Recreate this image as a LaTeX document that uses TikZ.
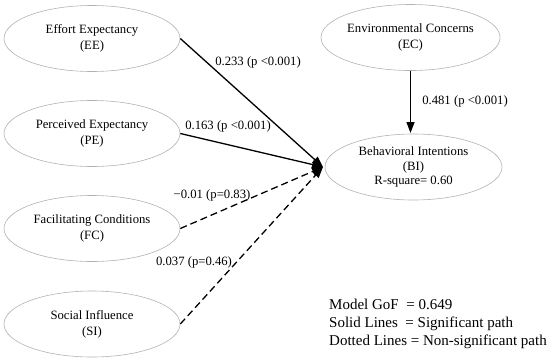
\documentclass[tikz,border=0pt]{standalone}
\usepackage{fontspec}
\setmainfont{Liberation Serif}
\usetikzlibrary{shapes.geometric,arrows.meta}
\begin{document}
\begin{tikzpicture}[x=1bp,y=-1bp,
  construct/.style={ellipse,draw=black!30,line width=0.6bp,minimum width=176bp,minimum height=66bp,inner sep=0pt,align=center,font=\fontsize{12.7bp}{16bp}\selectfont},
  sigpath/.style={line width=1.3bp,-{Triangle[length=11bp,width=8bp]}},
  nspath/.style={line width=1.3bp,dash pattern=on 7bp off 4bp,-{Triangle[length=11bp,width=8bp]}},
  plabel/.style={font=\fontsize{12.7bp}{15bp}\selectfont,inner sep=0pt}]
\useasboundingbox (0,0) rectangle (550,362);
\node[construct] (EE) at (92,38.5) {Effort Expectancy\\(EE)};
\node[construct] (PE) at (92,133.5) {Perceived Expectancy\\(PE)};
\node[construct] (FC) at (92,228.5) {Facilitating Conditions\\(FC)};
\node[construct] (SI) at (92,324) {Social Influence\\(SI)};
\node[construct] (EC) at (410.5,37.5) {Environmental Concerns\\(EC)};
\node[construct,minimum width=177bp,font=\fontsize{12.7bp}{14.5bp}\selectfont] (BI) at (413.5,167) {Behavioral Intentions\\(BI)\\R-square= 0.60};
\coordinate (tip) at (323,167);
\coordinate (ectop) at (410.5,133);
\draw[sigpath] (EE.east) -- (tip);
\draw[sigpath] (PE.east) -- (tip);
\draw[nspath] (FC.east) -- (tip);
\draw[nspath] (SI.east) -- (tip);
\draw[sigpath] (EC.south) -- (ectop);
\node[plabel] (l1) at (258,62) {0.233 (p <0.001)};
\node[plabel] (l2) at (228,126) {0.163 (p <0.001)};
\node[plabel] (l3) at (212,195) {\char"2212 0.01 (p=0.83)};
\node[plabel] (l4) at (194,262) {0.037 (p=0.46)};
\node[plabel] (l5) at (465,101) {0.481 (p <0.001)};
\node[anchor=west,align=left,inner sep=0pt,font=\fontsize{15bp}{18bp}\selectfont] (legend) at (329,323.5) {Model GoF\ \ = 0.649\\Solid Lines\ \ = Significant path\\Dotted Lines = Non-significant path};
\end{tikzpicture}
\end{document}
